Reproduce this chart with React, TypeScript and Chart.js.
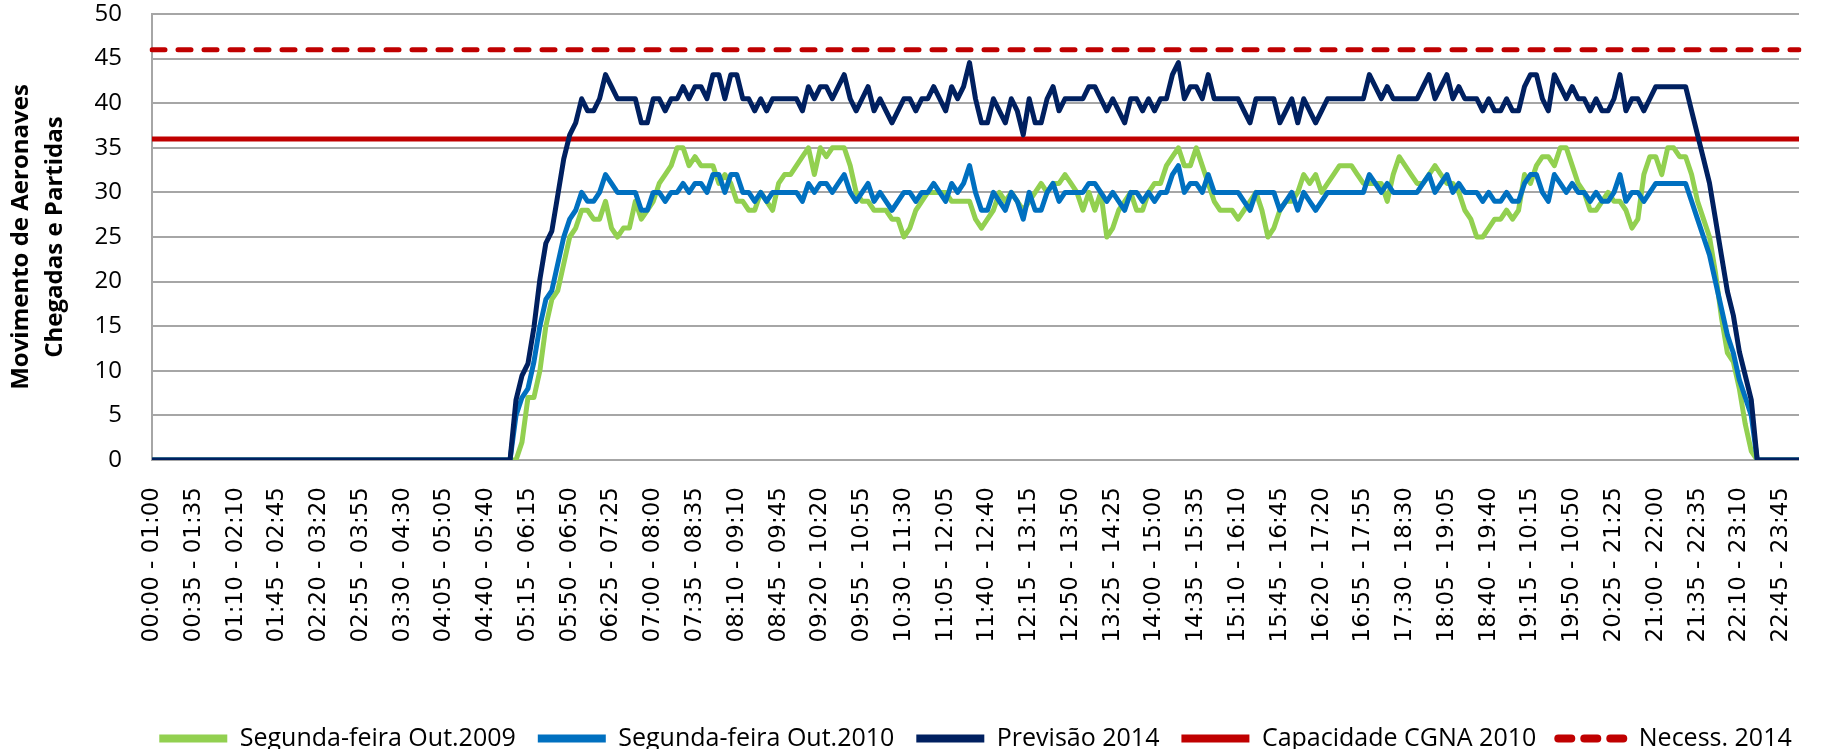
import React, { useEffect, useRef } from "react";
import { Chart, registerables } from "chart.js";

Chart.register(...registerables);

// Visible x tick labels (every 7th 5-minute slot), as printed on the original
const TICK_LABELS = [
  "00:00 - 01:00", "00:35 - 01:35", "01:10 - 02:10", "01:45 - 02:45", "02:20 - 03:20",
  "02:55 - 03:55", "03:30 - 04:30", "04:05 - 05:05", "04:40 - 05:40", "05:15 - 06:15",
  "05:50 - 06:50", "06:25 - 07:25", "07:00 - 08:00", "07:35 - 08:35", "08:10 - 09:10",
  "08:45 - 09:45", "09:20 - 10:20", "09:55 - 10:55", "10:30 - 11:30", "11:05 - 12:05",
  "11:40 - 12:40", "12:15 - 13:15", "12:50 - 13:50", "13:25 - 14:25", "14:00 - 15:00",
  "14:35 - 15:35", "15:10 - 16:10", "15:45 - 16:45", "16:20 - 17:20", "16:55 - 17:55",
  "17:30 - 18:30", "18:05 - 19:05", "18:40 - 19:40", "19:15 - 10:15", "19:50 - 10:50",
  "20:25 - 21:25", "21:00 - 22:00", "21:35 - 22:35", "22:10 - 23:10", "22:45 - 23:45",
];

// Segunda-feira Out.2009 (slots 0..276)
const GREEN_2009 = [
  0, 0, 0, 0, 0, 0, 0, 0, 0, 0, 0, 0, 0, 0, 0, 0, 0, 0, 0, 0,
  0, 0, 0, 0, 0, 0, 0, 0, 0, 0, 0, 0, 0, 0, 0, 0, 0, 0, 0, 0,
  0, 0, 0, 0, 0, 0, 0, 0, 0, 0, 0, 0, 0, 0, 0, 0, 0, 0, 0, 0,
  0, 0,
  2, 7, 7, 10, 15, 18, 19, 22, 25, 26, 28, 28, 27, 27, 29, 26, 25, 26, 26, 29, 27, 28,
  29, 31, 32, 33, 35, 35, 33, 34, 33, 33, 33, 31, 32, 31, 29, 29, 28, 28, 30, 29,
  28, 31, 32, 32, 33, 34, 35, 32, 35, 34, 35, 35, 35, 33, 30, 29, 29, 28,
  28, 28, 27, 27, 25, 26, 28, 29, 30, 30, 30, 30, 29, 29, 29, 29, 27, 26, 27, 28,
  30, 29, 30, 29, 28, 29, 30, 31, 30, 31, 31, 32, 31, 30, 28, 30, 28, 30,
  25, 26, 28, 29, 30, 28, 28, 30, 31, 31, 33, 34, 35, 33, 33, 35, 33, 31, 29, 28,
  28, 28, 27, 28, 29, 30, 28, 25, 26, 28, 29, 29, 30, 32, 31, 32, 30, 31, 32,
  33, 33, 33, 32, 31, 31, 31, 31, 29, 32, 34, 33, 32, 31, 31, 32, 33, 32, 31, 31,
  30, 28, 27, 25, 25, 26, 27, 27, 28, 27, 28, 32, 31, 33, 34, 34, 33, 35, 35,
  33, 31, 30, 28, 28, 29, 30, 29, 29, 28, 26, 27, 32, 34, 34, 32, 35, 35, 34, 34,
  32, 29, 27, 25, 21, 16, 12, 11, 8, 4, 1, 0, 0, 0, 0, 0, 0, 0, 0,
];

// Segunda-feira Out.2010 (slots 0..276)
const BLUE_2010 = [
  0, 0, 0, 0, 0, 0, 0, 0, 0, 0, 0, 0, 0, 0, 0, 0, 0, 0, 0, 0,
  0, 0, 0, 0, 0, 0, 0, 0, 0, 0, 0, 0, 0, 0, 0, 0, 0, 0, 0, 0,
  0, 0, 0, 0, 0, 0, 0, 0, 0, 0, 0, 0, 0, 0, 0, 0, 0, 0, 0, 0,
  0,
  5, 7, 8, 11, 15, 18, 19, 22, 25, 27, 28, 30, 29, 29, 30, 32, 31, 30, 30, 30, 30, 28, 28,
  30, 30, 29, 30, 30, 31, 30, 31, 31, 30, 32, 32, 30, 32, 32, 30, 30, 29, 30, 29,
  30, 30, 30, 30, 30, 29, 31, 30, 31, 31, 30, 31, 32, 30, 29, 30, 31, 29,
  30, 29, 28, 29, 30, 30, 29, 30, 30, 31, 30, 29, 31, 30, 31, 33, 30, 28, 28, 30,
  29, 28, 30, 29, 27, 30, 28, 28, 30, 31, 29, 30, 30, 30, 30, 31, 31, 30,
  29, 30, 29, 28, 30, 30, 29, 30, 29, 30, 30, 32, 33, 30, 31, 31, 30, 32, 30, 30,
  30, 30, 30, 29, 28, 30, 30, 30, 30, 28, 29, 30, 28, 30, 29, 28, 29, 30, 30,
  30, 30, 30, 30, 30, 32, 31, 30, 31, 30, 30, 30, 30, 30, 31, 32, 30, 31, 32, 30,
  31, 30, 30, 30, 29, 30, 29, 29, 30, 29, 29, 31, 32, 32, 30, 29, 32, 31, 30,
  31, 30, 30, 29, 30, 29, 29, 30, 32, 29, 30, 30, 29, 30, 31, 31, 31, 31, 31, 31,
  29, 27, 25, 23, 20, 17, 14, 12, 9, 7, 5, 0, 0, 0, 0, 0, 0, 0, 0,
];

// Previsão 2014 (slots 0..276)
const NAVY_2014 = [
  0, 0, 0, 0, 0, 0, 0, 0, 0, 0, 0, 0, 0, 0, 0, 0, 0, 0, 0, 0,
  0, 0, 0, 0, 0, 0, 0, 0, 0, 0, 0, 0, 0, 0, 0, 0, 0, 0, 0, 0,
  0, 0, 0, 0, 0, 0, 0, 0, 0, 0, 0, 0, 0, 0, 0, 0, 0, 0, 0, 0,
  0,
  6.75, 9.45, 10.8, 14.85, 20.25, 24.3, 25.65, 29.7, 33.75, 36.45, 37.8, 40.5, 39.15, 39.15,
  40.5, 43.2, 41.85, 40.5, 40.5, 40.5, 40.5, 37.8, 37.8,
  40.5, 40.5, 39.15, 40.5, 40.5, 41.85, 40.5, 41.85, 41.85, 40.5,
  43.2, 43.2, 40.5, 43.2, 43.2, 40.5, 40.5, 39.15, 40.5, 39.15,
  40.5, 40.5, 40.5, 40.5, 40.5, 39.15, 41.85, 40.5, 41.85, 41.85,
  40.5, 41.85, 43.2, 40.5, 39.15, 40.5, 41.85, 39.15,
  40.5, 39.15, 37.8, 39.15, 40.5, 40.5, 39.15, 40.5, 40.5, 41.85,
  40.5, 39.15, 41.85, 40.5, 41.85, 44.55, 40.5, 37.8, 37.8, 40.5,
  39.15, 37.8, 40.5, 39.15, 36.45, 40.5, 37.8, 37.8, 40.5, 41.85,
  39.15, 40.5, 40.5, 40.5, 40.5, 41.85, 41.85, 40.5,
  39.15, 40.5, 39.15, 37.8, 40.5, 40.5, 39.15, 40.5, 39.15, 40.5,
  40.5, 43.2, 44.55, 40.5, 41.85, 41.85, 40.5, 43.2, 40.5, 40.5,
  40.5, 40.5, 40.5, 39.15, 37.8, 40.5, 40.5, 40.5, 40.5, 37.8,
  39.15, 40.5, 37.8, 40.5, 39.15, 37.8, 39.15, 40.5, 40.5,
  40.5, 40.5, 40.5, 40.5, 40.5, 43.2, 41.85, 40.5, 41.85, 40.5,
  40.5, 40.5, 40.5, 40.5, 41.85, 43.2, 40.5, 41.85, 43.2, 40.5,
  41.85, 40.5, 40.5, 40.5, 39.15, 40.5, 39.15, 39.15, 40.5, 39.15,
  39.15, 41.85, 43.2, 43.2, 40.5, 39.15, 43.2, 41.85, 40.5,
  41.85, 40.5, 40.5, 39.15, 40.5, 39.15, 39.15, 40.5, 43.2, 39.15,
  40.5, 40.5, 39.15, 40.5, 41.85, 41.85, 41.85, 41.85, 41.85, 41.85,
  39.15, 36.45, 33.75, 31.05, 27, 22.95, 18.9, 16.2, 12.15, 9.45,
  6.75, 0, 0, 0, 0, 0, 0, 0, 0,
];

const CAPACIDADE_CGNA_2010 = 36;
const NECESS_2014 = 46;

const SERIES_NAMES = [
  "Segunda-feira Out.2009",
  "Segunda-feira Out.2010",
  "Previsão 2014",
  "Capacidade CGNA 2010",
  "Necess. 2014",
];

const NECESS_DASH = [13, 13];

const Y_TITLE = ["Movimento de Aeronaves", "Chegadas e Partidas"];

function slotLabel(i: number): string {
  const start = i * 5;
  const h = Math.floor(start / 60);
  const m = start % 60;
  const p = (n: number) => String(n).padStart(2, "0");
  return `${p(h)}:${p(m)} - ${p(h + 1)}:${p(m)}`;
}

const CATEGORIES = GREEN_2009.map((_, i) => slotLabel(i));

// moves the (full-width) legend so it sits centred under the plot area
const legendShift = {
  id: "legendShift",
  afterLayout(chart: any) {
    const lg = chart.legend;
    if (!lg) return;
    const shift = (chart.chartArea.left + chart.chartArea.right) / 2 - (lg.left + lg.right) / 2;
    lg.left += shift;
    lg.right += shift;
  },
};

export default function App() {
  const ref = useRef<HTMLCanvasElement | null>(null);

  useEffect(() => {
    if (!ref.current) return;
    const first = CATEGORIES[0];
    const last = CATEGORIES[CATEGORIES.length - 1];
    const common = {
      borderWidth: 5,
      pointRadius: 0,
      pointHoverRadius: 0,
      tension: 0,
      borderJoinStyle: "round" as const,
      fill: false,
    };
    const chart = new Chart(ref.current, {
      type: "line",
      plugins: [legendShift],
      data: {
        labels: CATEGORIES,
        datasets: [
          { ...common, label: SERIES_NAMES[0], data: GREEN_2009, borderColor: "#92D050", backgroundColor: "#92D050", order: 2 },
          { ...common, label: SERIES_NAMES[1], data: BLUE_2010, borderColor: "#0070C0", backgroundColor: "#0070C0", order: 1 },
          { ...common, label: SERIES_NAMES[2], data: NAVY_2014, borderColor: "#002060", backgroundColor: "#002060", order: 0 },
          {
            ...common,
            label: SERIES_NAMES[3],
            data: [{ x: first, y: CAPACIDADE_CGNA_2010 }, { x: last, y: CAPACIDADE_CGNA_2010 }] as any,
            borderColor: "#C00000",
            backgroundColor: "#C00000",
            order: 3,
          },
          {
            ...common,
            label: SERIES_NAMES[4],
            data: [{ x: first, y: NECESS_2014 }, { x: last, y: NECESS_2014 }] as any,
            borderColor: "#C00000",
            backgroundColor: "#C00000",
            borderDash: NECESS_DASH,
            borderCapStyle: "round",
            order: 4,
          },
        ],
      },
      options: {
        animation: false,
        responsive: true,
        maintainAspectRatio: false,
        layout: { padding: { left: 0, right: 28, top: 14, bottom: 0 } },
        scales: {
          x: {
            type: "category",
            offset: false,
            grid: { display: false, drawTicks: false },
            border: { display: false },
            ticks: {
              autoSkip: false,
              minRotation: 90,
              maxRotation: 90,
              padding: 27,
              color: "#000",
              font: { family: "DejaVu Sans", size: 23 },
              callback: (_v: any, i: number) => (i % 7 === 0 ? TICK_LABELS[i / 7] : null),
            },
            afterFit: (s: any) => {
              s.height = 244;
              s.paddingLeft = 0;
              s.paddingRight = 0;
            },
          },
          y: {
            min: 0,
            max: 50,
            ticks: {
              stepSize: 5,
              padding: 30,
              color: "#000",
              font: { family: "Open Sans", size: 24 },
            },
            grid: { color: "#A6A6A6", lineWidth: 2, drawTicks: false },
            border: { color: "#A6A6A6", width: 2 },
            title: {
              display: true,
              text: Y_TITLE,
              color: "#000",
              font: { family: "Open Sans", size: 24, weight: "bold", lineHeight: 1.38 },
              padding: { top: 5, bottom: 0 },
            },
            afterFit: (s: any) => {
              s.width = 152;
              s.paddingTop = 0;
              s.paddingBottom = 0;
            },
          },
        },
        plugins: {
          legend: {
            position: "bottom",
            maxHeight: 45,
            labels: {
              usePointStyle: true,
              pointStyle: "line",
              pointStyleWidth: 68,
              padding: 22,
              color: "#000",
              font: { family: "Open Sans", size: 25 },
              sort: (a: any, b: any) => a.datasetIndex - b.datasetIndex,
              generateLabels: (c: any) =>
                (Chart.defaults.plugins.legend.labels.generateLabels as any)(c).map((l: any) => {
                  const ds = c.data.datasets[l.datasetIndex];
                  const dashed = Array.isArray(ds.borderDash) && ds.borderDash.length > 0;
                  return {
                    ...l,
                    lineWidth: 8,
                    lineDash: dashed ? ds.borderDash : [],
                    lineCap: dashed ? "round" : "butt",
                    strokeStyle: ds.borderColor,
                  };
                }),
            },
          },
          tooltip: { enabled: false },
        },
      },
    });
    return () => chart.destroy();
  }, []);

  return (
    <div style={{ position: "fixed", left: 0, top: 0, width: 1827, height: 749, background: "#fff" }}>
      <canvas ref={ref} />
    </div>
  );
}
